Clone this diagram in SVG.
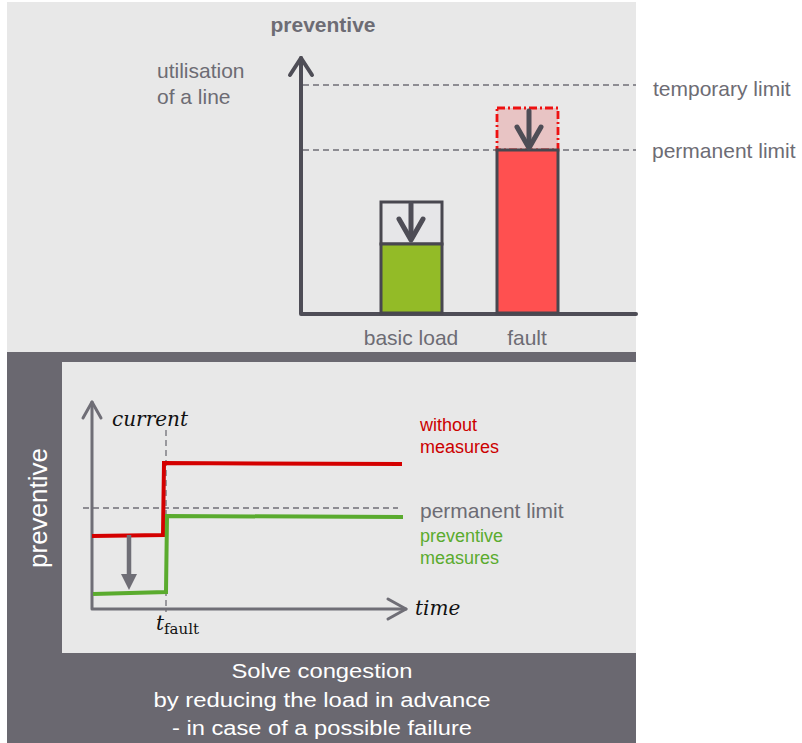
<svg xmlns="http://www.w3.org/2000/svg" width="802" height="743" viewBox="0 0 802 743">
<style>
.t{font-family:"Liberation Sans",Arial,sans-serif;fill:#6d6c74}
.m{font-family:"DejaVu Serif",serif;font-style:italic;fill:#111}
.ax{stroke:#4e4d56;stroke-width:4;fill:none;stroke-linecap:round;stroke-linejoin:round}
.ax2{stroke:#6f6e76;stroke-width:3;fill:none;stroke-linecap:round;stroke-linejoin:round}
.dash{stroke:#6f6e76;stroke-width:1.3;stroke-dasharray:6 4;fill:none}
.bar{stroke:#48474f;stroke-width:3}
.arr{stroke:#4e4d56;stroke-width:5;fill:none;stroke-linecap:round;stroke-linejoin:round}
.w{font-family:"Liberation Sans",Arial,sans-serif;fill:#ffffff}
</style>
<rect x="0" y="0" width="802" height="743" fill="#ffffff"/>
<g id="top-panel">
<rect x="7" y="2" width="629" height="350" fill="#e8e8e8"/>
<text class="t" x="323" y="32" font-size="21" font-weight="bold" text-anchor="middle">preventive</text>
<text class="t" x="157" y="78" font-size="21">utilisation</text>
<text class="t" x="157" y="104" font-size="21">of a line</text>
</g>
<g id="limits">
<line class="dash" x1="303" y1="85" x2="636" y2="85"/>
<line class="dash" x1="303" y1="150" x2="636" y2="150"/>
<text class="t" x="653" y="96" font-size="21">temporary limit</text>
<text class="t" x="652" y="158" font-size="21">permanent limit</text>
</g>
<g id="axes-top">
<polyline class="ax" points="301,58 301,314 636,314"/>
<polyline class="ax" points="290,75 301,58 312,75"/>
</g>
<g id="bar-basic">
<rect class="bar" x="381" y="202" width="61" height="42" fill="#e6e6e8"/>
<rect class="bar" x="381" y="244" width="61" height="69" fill="#93bb27"/>
<line class="arr" x1="411" y1="204" x2="411" y2="238"/>
<polyline class="arr" points="399,219 411,240 423,219"/>
<text class="t" x="411" y="345" font-size="21" text-anchor="middle">basic load</text>
</g>
<g id="bar-fault">
<rect x="497" y="108" width="61" height="42" fill="#e8c4c4" stroke="#ee1111" stroke-width="2.8" stroke-dasharray="8 3 2 3"/>
<rect class="bar" x="497" y="150" width="61" height="163" fill="#ff5050"/>
<line class="arr" x1="529" y1="111" x2="529" y2="145"/>
<polyline class="arr" points="517,127 529,148 541,127"/>
<text class="t" x="527" y="345" font-size="21" text-anchor="middle">fault</text>
</g>
<g id="frame">
<rect x="7" y="352" width="629" height="10" fill="#6a6870"/>
<rect x="7" y="352" width="55" height="391" fill="#6a6870"/>
<rect x="62" y="362" width="574" height="291" fill="#e8e8e8"/>
<rect x="7" y="653" width="629" height="90" fill="#6a6870"/>
<text class="w" font-size="26" text-anchor="middle" transform="translate(47,508) rotate(-90)">preventive</text>
</g>
<g id="chart">
<line class="dash" x1="166" y1="430" x2="166" y2="612" stroke-dasharray="6 4"/>
<line class="dash" x1="83" y1="508" x2="398" y2="508"/>
<polyline class="ax2" points="92,402 92,609 406,609"/>
<polyline class="ax2" points="83,418 92,402 101,418"/>
<polyline class="ax2" points="388,599 406,609 388,619"/>
<polyline points="92,536 163,535 164,463 402,464" fill="none" stroke="#d40000" stroke-width="4"/>
<polyline points="93,594 166,592 167,516 403,517" fill="none" stroke="#5aab2e" stroke-width="4"/>
<line x1="129" y1="535" x2="129" y2="576" stroke="#6f6e76" stroke-width="4.5"/>
<polygon points="121,574 137,574 129,590" fill="#6f6e76"/>
<text class="m" x="112" y="426" font-size="20">current</text>
<text class="m" x="415" y="615" font-size="20">time</text>
<text class="m" x="156" y="630" font-size="20">t<tspan font-style="normal" font-size="15" dy="4">fault</tspan></text>
</g>
<g id="legend">
<text class="t" x="420" y="431" font-size="18" style="fill:#cc0000">without</text>
<text class="t" x="420" y="453" font-size="18" style="fill:#cc0000">measures</text>
<text class="t" x="420" y="518" font-size="21">permanent limit</text>
<text class="t" x="420" y="542" font-size="18" style="fill:#5aab2e">preventive</text>
<text class="t" x="420" y="564" font-size="18" style="fill:#5aab2e">measures</text>
</g>
<g id="caption">
<text class="w" x="322" y="678" font-size="20" text-anchor="middle" textLength="181" lengthAdjust="spacingAndGlyphs">Solve congestion</text>
<text class="w" x="322" y="707" font-size="20" text-anchor="middle" textLength="337" lengthAdjust="spacingAndGlyphs">by reducing the load in advance</text>
<text class="w" x="322" y="735" font-size="20" text-anchor="middle" textLength="300" lengthAdjust="spacingAndGlyphs">- in case of a possible failure</text>
</g>
</svg>
